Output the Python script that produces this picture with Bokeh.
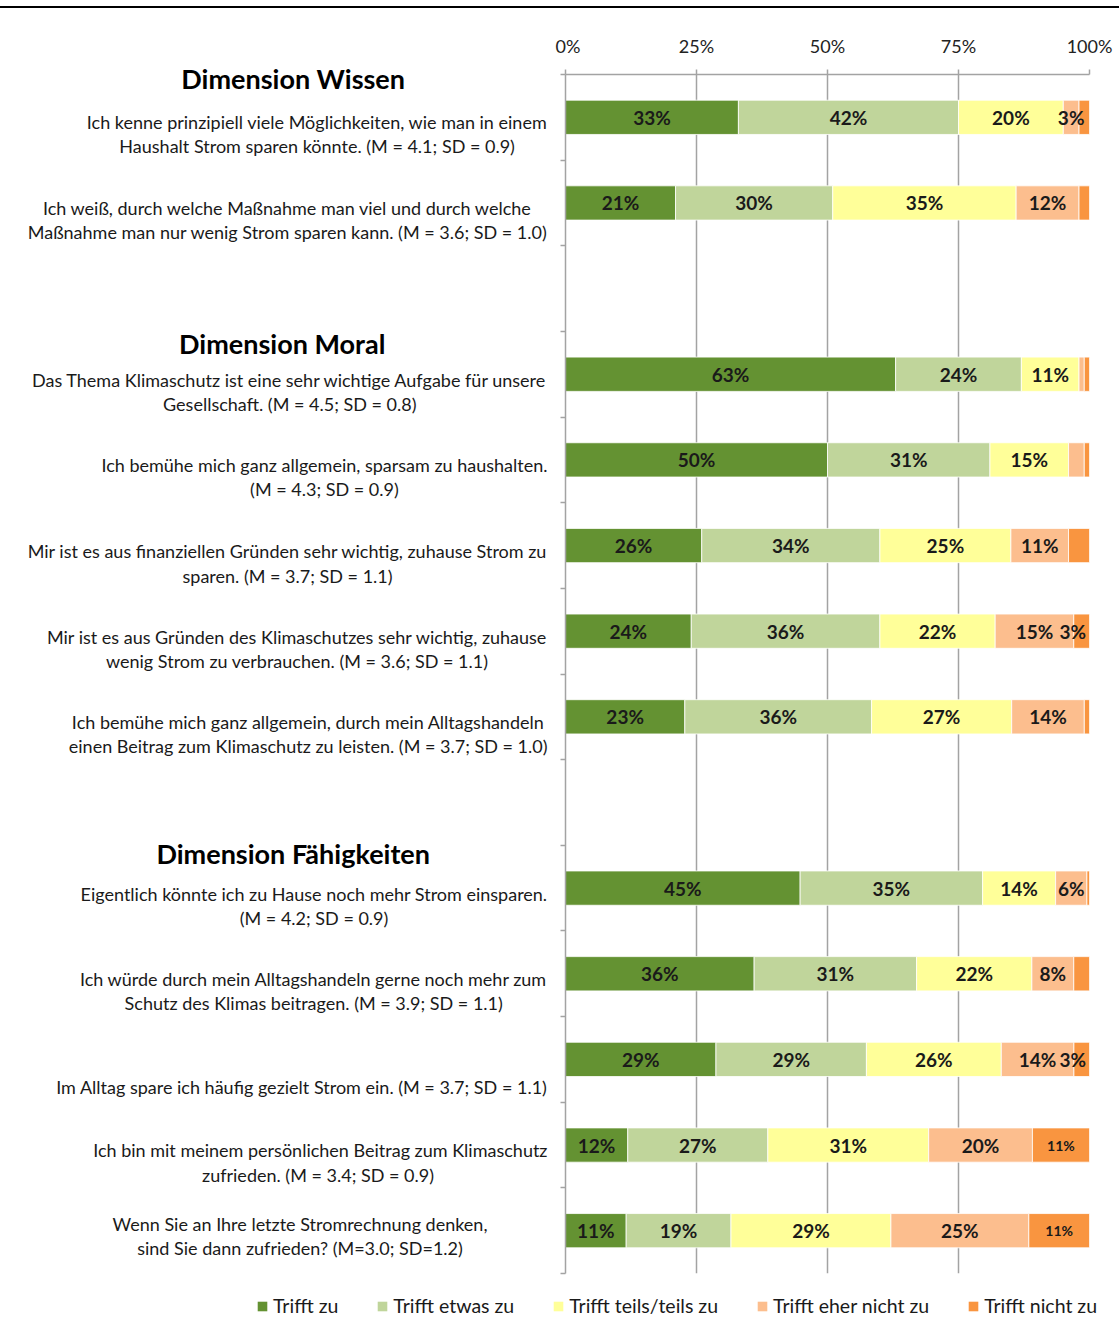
from bokeh.plotting import figure
from bokeh.models import ColumnDataSource, Range1d, FixedTicker, Legend, LegendItem, Div
from bokeh.layouts import column, row
from bokeh.core.properties import value
from bokeh.embed import file_html
from bokeh.resources import INLINE

# ---------------- data ----------------
series = ["Trifft zu", "Trifft etwas zu", "Trifft teils/teils zu",
          "Trifft eher nicht zu", "Trifft nicht zu"]

groups = ["Dimension  Wissen", "Dimension  Moral", "Dimension  Fähigkeiten"]

statements = [
    "Ich kenne prinzipiell viele Möglichkeiten, wie man in einem\nHaushalt Strom sparen könnte. (M = 4.1; SD = 0.9)",
    "Ich weiß, durch welche Maßnahme man viel und durch welche\nMaßnahme man nur wenig Strom sparen kann. (M = 3.6; SD = 1.0)",
    "Das Thema Klimaschutz ist eine sehr wichtige Aufgabe für unsere\nGesellschaft. (M = 4.5; SD = 0.8)",
    "Ich bemühe mich ganz allgemein, sparsam zu haushalten.\n(M = 4.3; SD = 0.9)",
    "Mir ist es aus finanziellen Gründen sehr wichtig, zuhause Strom zu\nsparen. (M = 3.7; SD = 1.1)",
    "Mir ist es aus Gründen des Klimaschutzes sehr wichtig, zuhause\nwenig Strom zu verbrauchen. (M = 3.6; SD = 1.1)",
    "Ich bemühe mich ganz allgemein, durch mein Alltagshandeln\neinen Beitrag zum Klimaschutz zu leisten. (M = 3.7; SD = 1.0)",
    "Eigentlich könnte ich zu Hause noch mehr Strom einsparen.\n(M = 4.2; SD = 0.9)",
    "Ich würde durch mein Alltagshandeln gerne noch mehr zum\nSchutz des Klimas beitragen. (M = 3.9; SD = 1.1)",
    "Im Alltag spare ich häufig gezielt Strom ein. (M = 3.7; SD = 1.1)",
    "Ich bin mit meinem persönlichen Beitrag zum Klimaschutz\nzufrieden.  (M = 3.4; SD = 0.9)",
    "Wenn Sie an Ihre letzte Stromrechnung denken,\nsind Sie dann zufrieden? (M=3.0; SD=1.2)",
]
statement_group = [0, 0, 1, 1, 1, 1, 1, 2, 2, 2, 2, 2]

trifft_zu         = [33, 21, 63, 50, 26, 24, 23, 45, 36, 29, 12, 11]
trifft_etwas_zu   = [42, 30, 24, 31, 34, 36, 36, 35, 31, 29, 27, 19]
trifft_teils      = [20, 35, 11, 15, 25, 22, 27, 14, 22, 26, 31, 29]
trifft_eher_nicht = [3, 12, 1, 3, 11, 15, 14, 6, 8, 14, 20, 25]
trifft_nicht      = [2, 2, 1, 1, 4, 3, 1, 0.5, 3, 3, 11, 11]
values = [trifft_zu, trifft_etwas_zu, trifft_teils, trifft_eher_nicht, trifft_nicht]

# labels not printed in the original (row, series)
hidden_labels = [(3, 3), (4, 4), (8, 4)]
min_label = 3
small_labels = [(10, 4), (11, 4)]

tick_values = [0, 25, 50, 75, 100]
tick_labels = ["0%", "25%", "50%", "75%", "100%"]

# ---------------- styles ----------------
colors = ["#649232", "#C0D59B", "#FFFF99", "#FCBE8E", "#F99540"]
FONT = "Lato"
TXT = "#1a1a1a"
GRID = "#A3A3A3"
label_dy = [17, 17, 17.5, 17, 18, 17.5, 17, 17.5, 17, 28, 17.5, 5.5]
label_right = [547, 547, 547, 547, 547, 547, 547, 547, 547, 547, 547, 487]
header_x = [296, 285, 296]
header_dy = [4, 12, 8]
LABEL_MAX_X = 96.8   # keep value labels inside the bar end

n_slots = len(statements) + len(groups) - 1
slots = [i + g for i, g in enumerate(statement_group)]
centers = [s + 0.5 for s in slots]

totals = [sum(v[i] for v in values) for i in range(len(statements))]
shares = [[v[i] / totals[i] * 100 for i in range(len(statements))] for v in values]

# geometry of the page
LINE_TOP = 6
TOP = 66
FRAME_H = 1199
BOTTOM = 20
FIG_H = TOP + FRAME_H + BOTTOM
LEFT_W = 555
BARS_W = 564
u = FRAME_H / n_slots

# ---------------- bars figure ----------------
p = figure(width=BARS_W, height=FIG_H, x_range=Range1d(0, 100), y_range=Range1d(n_slots, 0),
           x_axis_location="above", output_backend="svg", toolbar_location=None,
           min_border_left=10, min_border_right=30, min_border_top=TOP, min_border_bottom=BOTTOM)
p.outline_line_color = None
p.background_fill_color = "white"
p.border_fill_color = "white"

keys = ["s%d" % k for k in range(len(series))]
src = ColumnDataSource(dict(y=centers, **{k: sh for k, sh in zip(keys, shares)}))
p.hbar_stack(stackers=keys, y="y", height=0.4, color=colors, source=src,
             line_color="white", line_width=0.8)

lx, ly, lt, lsz = [], [], [], []
for i in range(len(statements)):
    left = 0.0
    for k in range(len(series)):
        sh = shares[k][i]
        v = values[k][i]
        if v >= min_label and (i, k) not in hidden_labels:
            lx.append(min(left + sh / 2, LABEL_MAX_X))
            ly.append(centers[i])
            lt.append("%d%%" % round(v))
            lsz.append("14px" if (i, k) in small_labels else "19px")
        left += sh
lsrc = ColumnDataSource(dict(x=lx, y=ly, t=lt, sz=lsz))
p.text(x="x", y="y", text="t", source=lsrc, text_align="center", text_baseline="middle",
       text_font=value(FONT), text_font_style="bold", text_font_size="sz", text_color=TXT)

xa = p.xaxis[0]
xa.ticker = FixedTicker(ticks=tick_values)
xa.major_label_overrides = {v: l for v, l in zip(tick_values, tick_labels)}
xa.axis_line_color = GRID
xa.axis_line_width = 1.5
xa.major_tick_line_color = GRID
xa.major_tick_line_width = 1.5
xa.major_tick_out = 5
xa.major_tick_in = 0
xa.minor_tick_line_color = None
xa.major_label_text_font = FONT
xa.major_label_text_font_size = "18px"
xa.major_label_text_color = "#222222"
xa.major_label_standoff = 13

ya = p.yaxis[0]
ya.ticker = FixedTicker(ticks=list(range(n_slots + 1)))
ya.major_label_overrides = {t: "" for t in range(n_slots + 1)}
ya.major_label_text_font_size = "0px"
ya.major_label_standoff = 0
ya.axis_line_color = GRID
ya.axis_line_width = 1.5
ya.major_tick_line_color = GRID
ya.major_tick_line_width = 1.5
ya.major_tick_out = 5
ya.major_tick_in = 0
ya.minor_tick_line_color = None

p.xgrid.ticker = FixedTicker(ticks=tick_values)
p.xgrid.grid_line_color = GRID
p.xgrid.grid_line_width = 1.5
p.ygrid.grid_line_color = None

# ---------------- labels figure (whole canvas is its frame) ----------------
lf = figure(width=LEFT_W, height=FIG_H, x_range=Range1d(0, LEFT_W),
            y_range=Range1d(n_slots + BOTTOM / u, -TOP / u),
            x_axis_location=None, y_axis_location=None,
            output_backend="svg", toolbar_location=None, min_border=0)
lf.outline_line_color = None
lf.xgrid.grid_line_color = None
lf.ygrid.grid_line_color = None

ssrc = ColumnDataSource(dict(x=label_right, y=centers, t=statements, dy=label_dy))
lf.text(x="x", y="y", text="t", y_offset="dy", source=ssrc, anchor=value("center_right"),
        text_align="center", text_baseline="middle", text_font=value(FONT),
        text_font_size="18px", text_line_height=1.1, text_color=TXT)

first_slot = [slots[statement_group.index(g)] for g in range(len(groups))]
hsrc = ColumnDataSource(dict(x=header_x, y=first_slot, t=groups, dy=header_dy))
lf.text(x="x", y="y", text="t", y_offset="dy", source=hsrc, text_align="center",
        text_baseline="middle", text_font=value(FONT), text_font_style="bold",
        text_font_size="27px", text_color="#000000")

# ---------------- legend figure ----------------
lg = figure(width=LEFT_W + BARS_W, height=24, x_range=Range1d(-3, -2), y_range=Range1d(0, 1),
            x_axis_location=None, y_axis_location=None,
            output_backend="svg", toolbar_location=None, min_border=0)
lg.outline_line_color = None
lg.xgrid.grid_line_color = None
lg.ygrid.grid_line_color = None
items = []
for name, k, c in zip(series, keys, colors):
    r = lg.hbar(y="y", left=0, right=k, height=0.4, source=src, fill_color=c, line_color=None)
    items.append(LegendItem(label=name, renderers=[r]))
leg = Legend(items=items, orientation="horizontal", location=(256, 0),
             glyph_width=12, glyph_height=12, label_standoff=5, spacing=38,
             padding=0, margin=0, border_line_color=None, background_fill_alpha=0,
             label_text_font=FONT, label_text_font_size="19.5px", label_text_color=TXT,
             label_height=20)
lg.add_layout(leg)

line = Div(text="", width=LEFT_W + BARS_W, height=2, margin=(LINE_TOP, 0, 0, 0),
           styles={"background-color": "#000000"})

layout = column(line, row(lf, column(p)), lg)
open("out.html", "w").write(file_html(layout, INLINE))
